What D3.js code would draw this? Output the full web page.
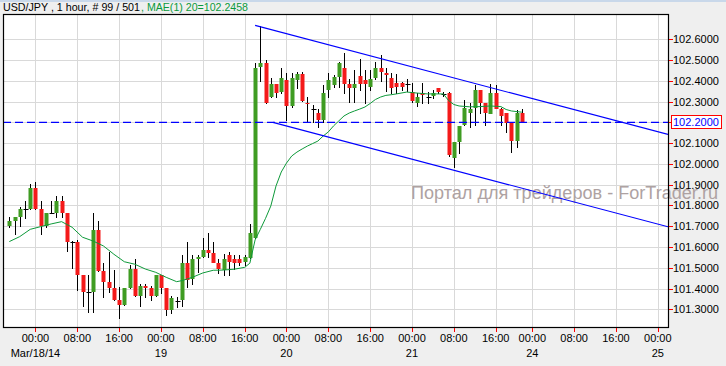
<!DOCTYPE html>
<html>
<head>
<meta charset="utf-8">
<script src="https://cdn.jsdelivr.net/npm/d3@7"></script>
<style>
  body { margin: 0; background: #efefef; }
  svg text { font-family: "Liberation Sans", Arial, sans-serif; }
</style>
</head>
<body>
<svg id="chart" width="726" height="366"></svg>
<script>
// bars, index 0 = 19:00 Mar 17 ; [open, high, low, close]
var candles = [
  [101.701,101.746,101.698,101.727],[101.725,101.744,101.661,101.744],[101.746,101.794,101.701,101.783],
  [101.781,101.822,101.738,101.781],[101.783,101.903,101.782,101.886],[101.886,101.913,101.782,101.783],
  [101.783,101.822,101.661,101.703],[101.703,101.764,101.698,101.764],[101.762,101.822,101.762,101.762],
  [101.765,101.846,101.743,101.822],[101.822,101.846,101.743,101.765],[101.764,101.764,101.582,101.626],
  [101.626,101.629,101.500,101.626],[101.626,101.634,101.393,101.465],[101.465,101.465,101.316,101.385],
  [101.382,101.465,101.289,101.382],[101.385,101.762,101.289,101.682],[101.682,101.725,101.486,101.486],
  [101.486,101.522,101.361,101.432],[101.432,101.577,101.385,101.404],[101.404,101.489,101.345,101.345],
  [101.345,101.409,101.260,101.321],[101.321,101.401,101.321,101.401],[101.404,101.513,101.404,101.494],
  [101.494,101.541,101.364,101.364],[101.364,101.420,101.316,101.412],[101.412,101.420,101.361,101.404],
  [101.404,101.412,101.345,101.364],[101.364,101.465,101.364,101.465],[101.465,101.465,101.380,101.404],
  [101.404,101.404,101.273,101.297],[101.297,101.364,101.284,101.356],[101.341,101.361,101.313,101.341],
  [101.345,101.561,101.316,101.522],[101.522,101.626,101.409,101.441],[101.444,101.561,101.420,101.541],
  [101.544,101.561,101.481,101.553],[101.553,101.642,101.553,101.586],[101.586,101.666,101.553,101.573],
  [101.573,101.624,101.526,101.526],[101.524,101.542,101.473,101.494],[101.489,101.566,101.465,101.541],
  [101.560,101.574,101.465,101.526],[101.541,101.561,101.493,101.524],[101.541,101.561,101.513,101.524],
  [101.524,101.561,101.513,101.550],[101.546,101.711,101.546,101.666],[101.642,102.484,101.642,102.460],
  [102.463,102.664,102.399,102.484],[102.484,102.500,102.292,102.292],[102.324,102.412,102.324,102.385],
  [102.385,102.385,102.324,102.343],[102.343,102.460,102.343,102.412],[102.404,102.439,102.211,102.279],
  [102.279,102.436,102.276,102.412],[102.404,102.441,102.364,102.433],[102.433,102.444,102.304,102.304],
  [102.292,102.321,102.203,102.285],[102.263,102.284,102.203,102.263],[102.244,102.263,102.179,102.211],
  [102.211,102.379,102.203,102.343],[102.356,102.439,102.324,102.404],[102.380,102.428,102.372,102.420],
  [102.417,102.489,102.372,102.484],[102.460,102.533,102.340,102.385],[102.385,102.407,102.300,102.366],
  [102.366,102.452,102.300,102.385],[102.423,102.504,102.356,102.385],[102.404,102.452,102.292,102.385],
  [102.369,102.452,102.356,102.407],[102.417,102.492,102.407,102.463],[102.463,102.524,102.401,102.444],
  [102.436,102.463,102.353,102.428],[102.415,102.436,102.340,102.369],[102.388,102.433,102.341,102.369],
  [102.388,102.396,102.356,102.367],[102.383,102.407,102.353,102.383],[102.345,102.388,102.300,102.304],
  [102.295,102.340,102.280,102.324],[102.340,102.388,102.292,102.328],[102.321,102.345,102.292,102.321],
  [102.324,102.356,102.316,102.340],[102.364,102.367,102.343,102.343],[102.337,102.348,102.327,102.337],
  [102.340,102.345,102.038,102.043],[102.032,102.107,101.987,102.107],[102.107,102.183,102.051,102.183],
  [102.187,102.308,102.187,102.268],[102.244,102.292,102.179,102.263],[102.268,102.380,102.187,102.356],
  [102.356,102.356,102.244,102.292],[102.292,102.292,102.187,102.244],[102.244,102.383,102.244,102.343],
  [102.343,102.380,102.268,102.268],[102.263,102.268,102.187,102.227],[102.247,102.247,102.155,102.200],
  [102.200,102.200,102.059,102.107],[102.107,102.260,102.080,102.244],[102.244,102.263,102.200,102.200]
];

// moving average 20, read at some bars : [bar index, value]
var maPoints = [
  [0,101.626],[2,101.650],[4,101.685],[6,101.698],[8,101.711],[10,101.722],[12,101.695],[14,101.647],
  [16,101.629],[18,101.605],[20,101.565],[22,101.529],[24,101.517],[26,101.494],[28,101.478],[30,101.454],
  [32,101.433],[33,101.438],[35,101.454],[37,101.475],[39,101.488],[41,101.489],[43,101.493],[45,101.502],
  [46,101.522],[47,101.634],[48,101.685],[49,101.738],[50,101.797],[51,101.894],[52,101.961],[53,102.004],
  [54,102.038],[55,102.057],[56,102.072],[57,102.086],[58,102.098],[59,102.110],[60,102.134],[61,102.154],
  [62,102.183],[63,102.207],[64,102.231],[65,102.245],[66,102.255],[67,102.264],[68,102.274],[69,102.291],
  [70,102.310],[71,102.322],[72,102.330],[73,102.333],[74,102.337],[76,102.346],[78,102.341],[80,102.337],
  [82,102.337],[83,102.337],[84,102.305],[85,102.286],[86,102.279],[88,102.275],[90,102.276],[92,102.279],
  [94,102.276],[95,102.262],[96,102.255],[98,102.249]
];

var priceTicks = [101.3,101.4,101.5,101.6,101.7,101.8,101.9,102.0,102.1,102.2,102.3,102.4,102.5,102.6];
var timeTickIdx = [5,13,21,29,37,45,53,61,69,77,85,93,100,108,116,124];
var timeTickLbl = ["00:00","08:00","16:00","00:00","08:00","16:00","00:00","08:00","16:00",
                   "00:00","08:00","16:00","00:00","08:00","16:00","00:00"];
var dateTickIdx = [5,29,53,77,100,124];
var dateTickLbl = ["Mar/18/14","19","20","21","24","25"];

var bidPrice = 102.2;
var upperTrend = [[47,102.667],[124,102.155]];
var lowerTrend = [[50.4,102.2],[124,101.710]];

var svg = d3.select("#chart");
var W = 726, H = 366;
var plot = {left: 3, top: 14, right: 668, bottom: 327};

var x = d3.scaleLinear().domain([0,124]).range([9.3,657.8]);
var y = d3.scaleLinear().domain([101.3,102.6]).range([309.3,39.3]);

svg.append("rect").attr("width",W).attr("height",H).attr("fill","#efefef");
svg.append("rect").attr("width",W).attr("height",2).attr("fill","#c9d8ea");

svg.append("defs").append("clipPath").attr("id","clipPlot")
  .append("rect").attr("x",plot.left).attr("y",plot.top)
  .attr("width",plot.right-plot.left).attr("height",plot.bottom-plot.top);

svg.append("rect")
  .attr("x",plot.left).attr("y",plot.top)
  .attr("width",plot.right-plot.left).attr("height",plot.bottom-plot.top)
  .attr("fill","#ffffff");

// grid
var grid = svg.append("g").attr("clip-path","url(#clipPlot)");
grid.selectAll(".gh").data(priceTicks).enter().append("line")
  .attr("x1",plot.left).attr("x2",plot.right)
  .attr("y1",function(d){ return Math.round(y(d))+0.5; })
  .attr("y2",function(d){ return Math.round(y(d))+0.5; })
  .attr("stroke","#d9d9d9");
grid.selectAll(".gv").data(timeTickIdx).enter().append("line")
  .attr("y1",plot.top).attr("y2",plot.bottom)
  .attr("x1",function(d){ return Math.round(x(d))+0.5; })
  .attr("x2",function(d){ return Math.round(x(d))+0.5; })
  .attr("stroke","#d9d9d9");

// watermark (runs over the price labels, as in the original)
svg.append("text")
  .attr("x",411).attr("y",199)
  .attr("font-size","18px")
  .attr("fill","#aea2a2")
  .attr("textLength",307).attr("lengthAdjust","spacingAndGlyphs")
  .text("Портал для трейдеров - ForTrader.ru");

var g = svg.append("g").attr("clip-path","url(#clipPlot)");

// candles
var bars = g.selectAll(".bar").data(candles).enter().append("g").attr("class","bar");
bars.append("line")
  .attr("x1",function(d,i){ return Math.round(x(i))+0.5; })
  .attr("x2",function(d,i){ return Math.round(x(i))+0.5; })
  .attr("y1",function(d){ return Math.round(y(d[1])); })
  .attr("y2",function(d){ return Math.round(y(d[2]))+1; })
  .attr("stroke","#000");
bars.append("rect")
  .attr("x",function(d,i){ return Math.round(x(i))-1.5; })
  .attr("width",function(d){ return d[0]==d[3] ? 5 : 4; })
  .attr("y",function(d){ return Math.round(y(Math.max(d[0],d[3]))); })
  .attr("height",function(d){ return Math.max(1, Math.round(Math.abs(y(d[0])-y(d[3])))); })
  .attr("fill",function(d){
    if (d[3] > d[0]) return "#3f9c22";
    if (d[3] < d[0]) return "#f41a1a";
    return "#000";
  });

// moving average
g.append("path")
  .datum(maPoints)
  .attr("fill","none")
  .attr("stroke","#0e9a3a")
  .attr("stroke-width",1)
  .attr("d",d3.line().x(function(d){ return x(d[0]); }).y(function(d){ return y(d[1]); }));

// trend channel, extended up to the right border
function drawTrend(pts){
  var x0 = x(pts[0][0]), y0 = y(pts[0][1]);
  var x1 = x(pts[1][0]), y1 = y(pts[1][1]);
  var k = (y1-y0)/(x1-x0);
  g.append("line")
    .attr("x1",x0).attr("y1",y0)
    .attr("x2",plot.right).attr("y2",y0 + k*(plot.right-x0))
    .attr("stroke","#0000ff").attr("stroke-width",1.1);
}
drawTrend(upperTrend);
drawTrend(lowerTrend);

// bid line
svg.append("line")
  .attr("x1",plot.left).attr("x2",plot.right)
  .attr("y1",y(bidPrice)).attr("y2",y(bidPrice))
  .attr("stroke","#0000ff").attr("stroke-width",1.4)
  .attr("stroke-dasharray","8,4");

// frame
svg.append("rect")
  .attr("x",plot.left+0.5).attr("y",plot.top+0.5)
  .attr("width",plot.right-plot.left).attr("height",plot.bottom-plot.top)
  .attr("fill","none").attr("stroke","#000").attr("stroke-width",1.2);

// price axis
var fmt = d3.format(".4f");
var pa = svg.append("g");
pa.selectAll(".tk").data(priceTicks).enter().append("line")
  .attr("x1",plot.right+1).attr("x2",plot.right+5)
  .attr("y1",function(d){ return Math.round(y(d))+0.5; })
  .attr("y2",function(d){ return Math.round(y(d))+0.5; })
  .attr("stroke","#ff0000");
pa.selectAll(".tl").data(priceTicks.filter(function(d){ return Math.abs(d-bidPrice)>1e-6; }))
  .enter().append("text")
  .attr("x",673).attr("y",function(d){ return y(d)+4; })
  .attr("font-size","11px").attr("fill","#000")
  .text(function(d){ return fmt(d); });

// bid label
pa.append("rect")
  .attr("x",671.5).attr("y",Math.round(y(bidPrice))-6.5)
  .attr("width",50).attr("height",13)
  .attr("fill","#fff").attr("stroke","#ff0000");
pa.append("text")
  .attr("x",673).attr("y",y(bidPrice)+4)
  .attr("font-size","11px").attr("fill","#0000ff")
  .text(fmt(bidPrice));

// time axis
var ta = svg.append("g");
ta.selectAll(".tk").data(timeTickIdx).enter().append("line")
  .attr("x1",function(d){ return Math.round(x(d))+0.5; })
  .attr("x2",function(d){ return Math.round(x(d))+0.5; })
  .attr("y1",plot.bottom+1).attr("y2",plot.bottom+5)
  .attr("stroke","#ff0000");
ta.selectAll(".tl").data(timeTickIdx).enter().append("text")
  .attr("x",function(d){ return x(d); }).attr("y",342)
  .attr("text-anchor","middle").attr("font-size","11px")
  .text(function(d,i){ return timeTickLbl[i]; });
ta.selectAll(".dl").data(dateTickIdx).enter().append("text")
  .attr("x",function(d){ return x(d); }).attr("y",357)
  .attr("text-anchor","middle").attr("font-size","11px")
  .text(function(d,i){ return dateTickLbl[i]; });

// header
svg.append("text").attr("x",3).attr("y",11).attr("font-size","11px")
  .attr("textLength",137).attr("lengthAdjust","spacingAndGlyphs")
  .attr("fill","#000").text("USD/JPY , 1 hour, # 99 / 501");
svg.append("text").attr("x",141).attr("y",11).attr("font-size","11px")
  .attr("textLength",107).attr("lengthAdjust","spacingAndGlyphs")
  .attr("fill","#0a9a3c").text(", MAE(1) 20=102.2458");
</script>
</body>
</html>
